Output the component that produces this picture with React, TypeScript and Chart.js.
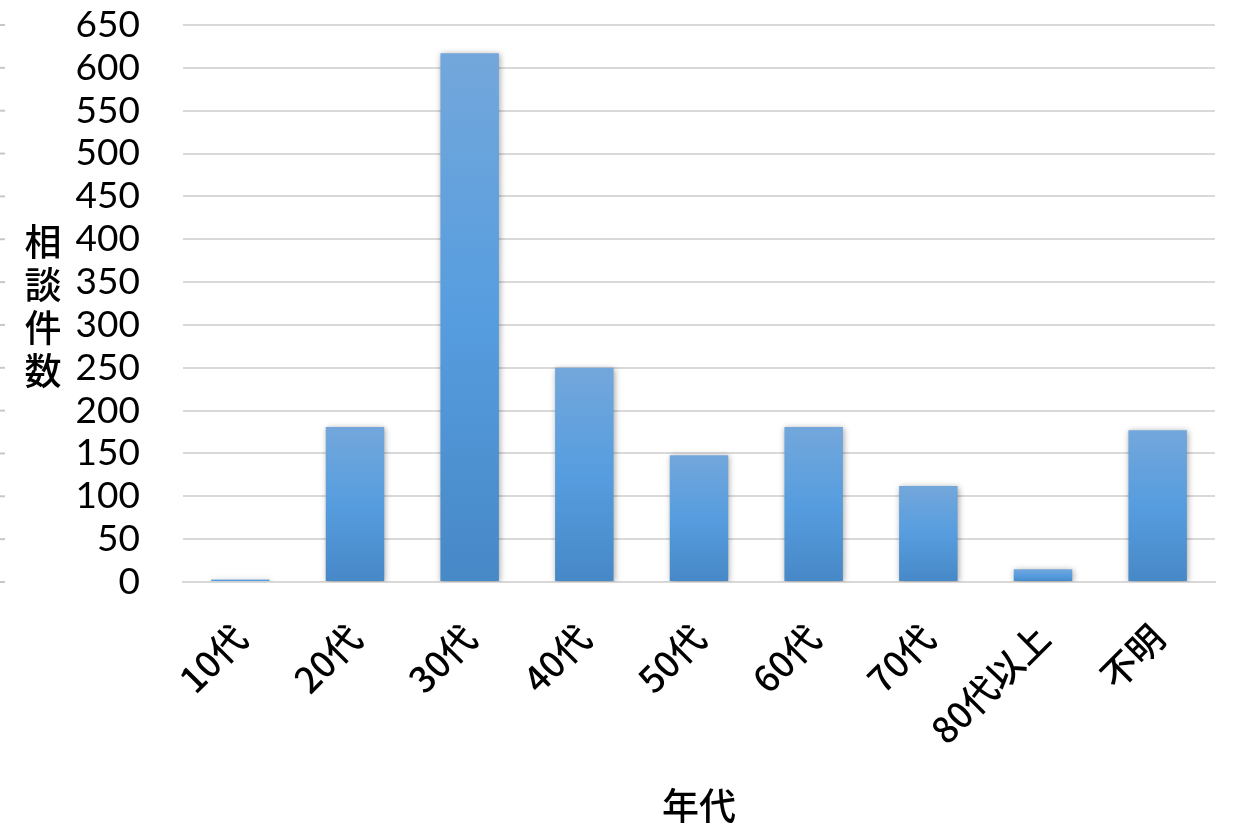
import React, { useEffect, useRef } from "react";
import { Chart, registerables } from "chart.js";

Chart.register(...registerables);

const categories = ["10代", "20代", "30代", "40代", "50代", "60代", "70代", "80代以上", "不明"];
const counts = [3, 181, 617, 250, 148, 181, 112, 15, 177];
const yTitleChars = ["相", "談", "件", "数"];
const xTitle = "年代";

const JP = '"Noto Sans CJK JP", sans-serif';
const NUM = 'Lato, "Noto Sans", sans-serif';

export default function App() {
  const ref = useRef<HTMLCanvasElement | null>(null);
  useEffect(() => {
    document.body.style.margin = "0";
    const canvas = ref.current!;
    const shadowPlugin = {
      id: "barShadow",
      beforeDatasetsDraw(chart: any) {
        const c = chart.ctx;
        c.save();
        c.shadowColor = "rgba(0,0,0,0.35)";
        c.shadowBlur = 6;
        c.shadowOffsetX = 1;
        c.shadowOffsetY = 1;
      },
      afterDatasetsDraw(chart: any) {
        chart.ctx.restore();
      },
    };
    const extrasPlugin = {
      id: "extras",
      afterDraw(chart: any) {
        const c = chart.ctx;
        const y = chart.scales.y;
        c.save();
        c.strokeStyle = "#c8c8c8";
        c.lineWidth = 2;
        y.ticks.forEach((t: any) => {
          const py = y.getPixelForValue(t.value);
          c.beginPath();
          c.moveTo(0, py);
          c.lineTo(5, py);
          c.stroke();
        });
        c.fillStyle = "#000";
        c.font = "500 37px " + JP;
        c.textAlign = "center";
        c.textBaseline = "middle";
        yTitleChars.forEach((ch, i) => {
          c.fillText(ch, 43, 242 + i * 43);
        });
        c.restore();
      },
    };
    const chart = new Chart(canvas, {
      type: "bar",
      data: {
        labels: categories,
        datasets: [
          {
            data: counts,
            backgroundColor: (ctx: any) => {
              const chartObj = ctx.chart;
              const ys = chartObj.scales?.y;
              if (!ys || ctx.raw == null) return "#5b9bd5";
              const top = ys.getPixelForValue(ctx.raw);
              const base = ys.getPixelForValue(0);
              if (!isFinite(top) || !isFinite(base) || base - top < 1) return "#5b9bd5";
              const g = chartObj.ctx.createLinearGradient(0, top, 0, base);
              g.addColorStop(0, "#73a7db");
              g.addColorStop(0.5, "#569ddf");
              g.addColorStop(1, "#4788c7");
              return g;
            },
            borderWidth: 0,
            barPercentage: 0.51,
            categoryPercentage: 1,
          },
        ],
      },
      options: {
        animation: false,
        responsive: false,
        devicePixelRatio: 1,
        layout: { padding: { top: 0, right: 20, left: 0, bottom: 0 } },
        plugins: { legend: { display: false }, tooltip: { enabled: false } },
        scales: {
          y: {
            min: 0,
            max: 650,
            ticks: {
              stepSize: 50,
              autoSkip: false,
              color: "#000",
              font: { family: NUM, size: 37 },
              padding: 43,
            },
            grid: { color: "#d9d9d9", lineWidth: 2, drawTicks: false },
            border: { display: false },
            afterFit: (s: any) => {
              s.width = 183;
              s.paddingTop = 25;
              s.paddingBottom = 22;
            },
          },
          x: {
            ticks: {
              color: "#000",
              font: { family: JP, size: 36, weight: 500 },
              minRotation: 45,
              maxRotation: 45,
              padding: 34,
              autoSkip: false,
            },
            grid: { display: false, drawTicks: false },
            border: { display: true, color: "#d9d9d9", width: 2 },
            title: {
              display: true,
              text: xTitle,
              color: "#000",
              font: { family: JP, size: 37, weight: 500 },
              padding: { top: 0, bottom: 1 },
            },
            afterFit: (s: any) => {
              s.height = 829 - 582;
            },
          },
        },
      },
      plugins: [shadowPlugin, extrasPlugin],
    } as any);
    return () => chart.destroy();
  }, []);
  return (
    <div style={{ width: 1235, height: 829, background: "#fff" }}>
      <canvas ref={ref} width={1235} height={829} style={{ display: "block" }} />
    </div>
  );
}
